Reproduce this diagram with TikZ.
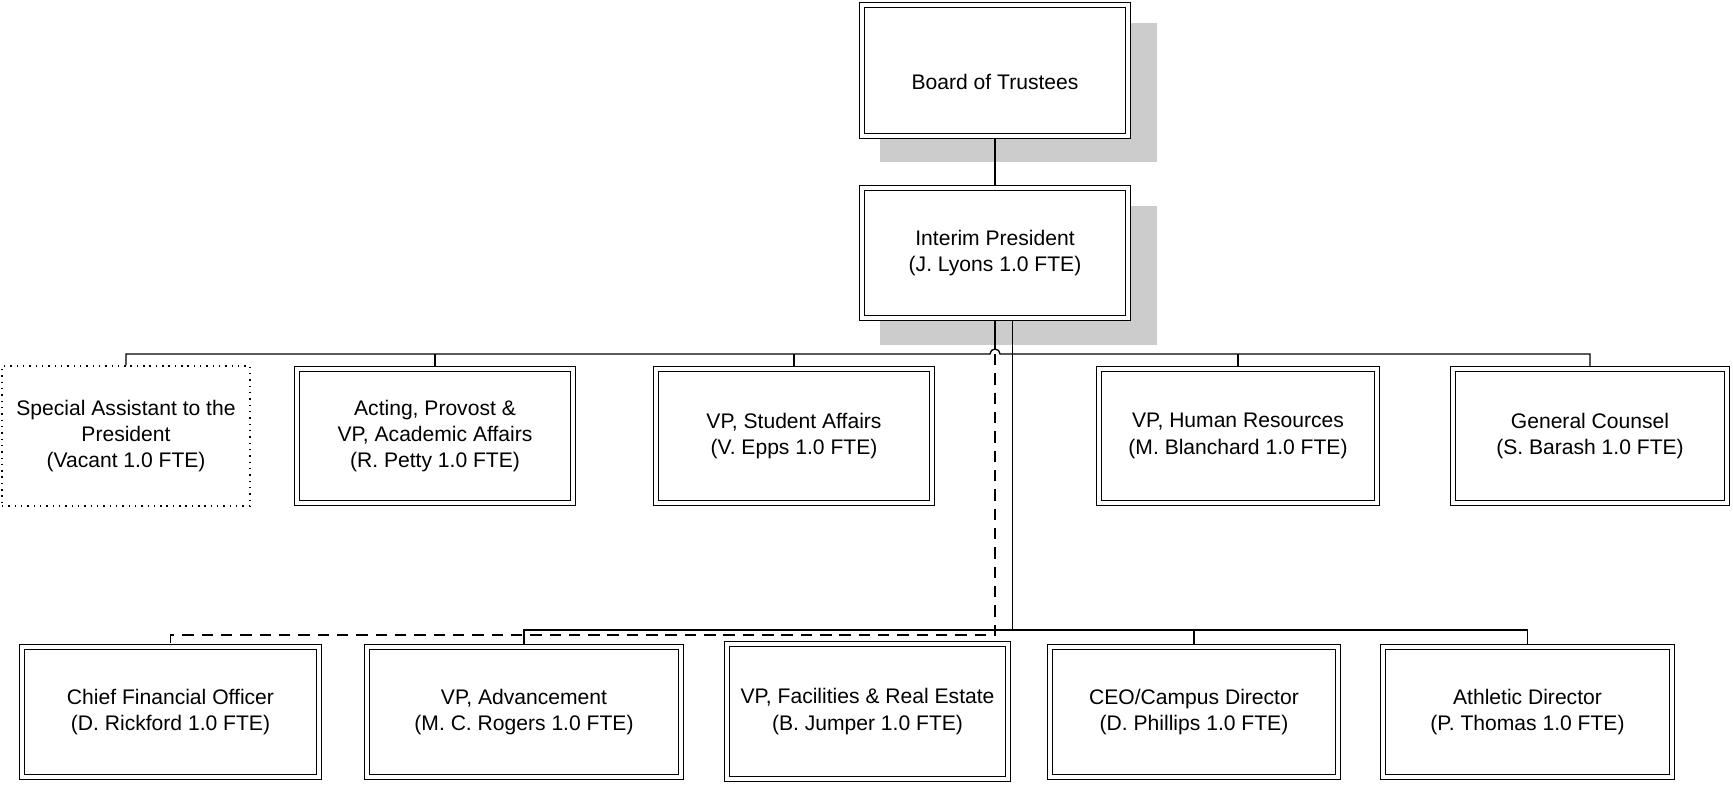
\documentclass[tikz,border=0pt]{standalone}
\usepackage{fontspec}
\setmainfont{Liberation Sans}
\usetikzlibrary{backgrounds}

\tikzset{
    post/.style={draw, double, line width=0.8pt, double distance=2pt,
        fill=white, align=center, inner sep=0pt},
    vacantpost/.style={draw, line width=0.8pt, dash pattern=on 0.8pt off 2.8pt,
        fill=white, align=center, inner sep=0pt},
    orgline/.style={line width=0.75pt},
    dashlink/.style={line width=0.75pt, dash pattern=on 6.5pt off 4.5pt},
    boxshadow/.style={fill=black!20}
}

\begin{document}
\begin{tikzpicture}[x=0.02cm, y=-0.02cm, font=\fontsize{12}{15}\selectfont]
    \useasboundingbox (0,0) rectangle (1733,784);

    % Board and president
    \node[post, minimum width=5.32cm, minimum height=2.62cm,
        text height=22pt, text depth=0pt] (board) at (995,70.5) {Board of Trustees};
    \node[post, minimum width=5.32cm, minimum height=2.6cm] (pres) at (995,253)
        {Interim President\\(J. Lyons 1.0 FTE)};

    % Offices reporting on the upper bar
    \node[vacantpost, minimum width=4.96cm, minimum height=2.8cm] (spec) at (126,436)
        {Special Assistant to the\\President\\(Vacant 1.0 FTE)};
    \node[post, minimum width=5.52cm, minimum height=2.68cm] (prov) at (435,436)
        {Acting, Provost \&\\VP, Academic Affairs\\(R. Petty 1.0 FTE)};
    \node[post, minimum width=5.52cm, minimum height=2.68cm] (stud) at (794,436)
        {VP, Student Affairs\\(V. Epps 1.0 FTE)};
    \node[post, minimum width=5.56cm, minimum height=2.68cm] (hr) at (1238,436)
        {VP, Human Resources\\(M. Blanchard 1.0 FTE)};
    \node[post, minimum width=5.48cm, minimum height=2.68cm] (gc) at (1590,436)
        {General Counsel\\(S. Barash 1.0 FTE)};

    % Offices reporting on the lower bar
    \node[post, minimum width=5.94cm, minimum height=2.6cm] (cfo) at (170.5,712)
        {Chief Financial Officer\\(D. Rickford 1.0 FTE)};
    \node[post, minimum width=6.28cm, minimum height=2.6cm] (adv) at (524,712)
        {VP, Advancement\\(M. C. Rogers 1.0 FTE)};
    \node[post, minimum width=5.62cm, minimum height=2.7cm] (fac) at (867.5,711.5)
        {VP, Facilities \& Real Estate\\(B. Jumper 1.0 FTE)};
    \node[post, minimum width=5.76cm, minimum height=2.6cm] (ceo) at (1194,712)
        {CEO/Campus Director\\(D. Phillips 1.0 FTE)};
    \node[post, minimum width=5.78cm, minimum height=2.6cm] (ath) at (1527.5,712)
        {Athletic Director\\(P. Thomas 1.0 FTE)};

    % Bar positions
    \coordinate (topbar) at (995,354);
    \coordinate (lowbar) at (1012.5,630);
    \coordinate (dashturn) at (995,635);

    \begin{scope}[on background layer]
        % Shadows behind the two top boxes
        \fill[boxshadow] ([shift={(19,19)}]board.north west) rectangle ([shift={(28,25)}]board.south east);
        \fill[boxshadow] ([shift={(19,19)}]pres.north west) rectangle ([shift={(28,26)}]pres.south east);

        % Board to president
        \draw[orgline] (board.south) -- (pres.north);

        % Upper bar, hopping over the dashed line
        \draw[orgline] (pres.south) -- ([yshift=0.1cm]topbar);
        \draw[orgline] (spec.north) |- ([xshift=-0.1cm]topbar)
            arc[start angle=180, end angle=0, radius=0.1cm] -- (gc.north |- topbar) -- (gc.north);
        \foreach \n in {prov, stud, hr}
            \draw[orgline] (\n.north) -- (\n.north |- topbar);

        % Lower bar
        \draw[orgline] ([shift={(17.5,0)}]pres.south) -- (lowbar);
        \draw[orgline] (adv.north) -- (adv.north |- lowbar) -- (ath.north |- lowbar) -- (ath.north);
        \draw[orgline] (ceo.north) -- (ceo.north |- lowbar);

        % Dashed line to the CFO
        \draw[dashlink] (topbar) -- (dashturn) -| (cfo.north);
    \end{scope}
\end{tikzpicture}
\end{document}
